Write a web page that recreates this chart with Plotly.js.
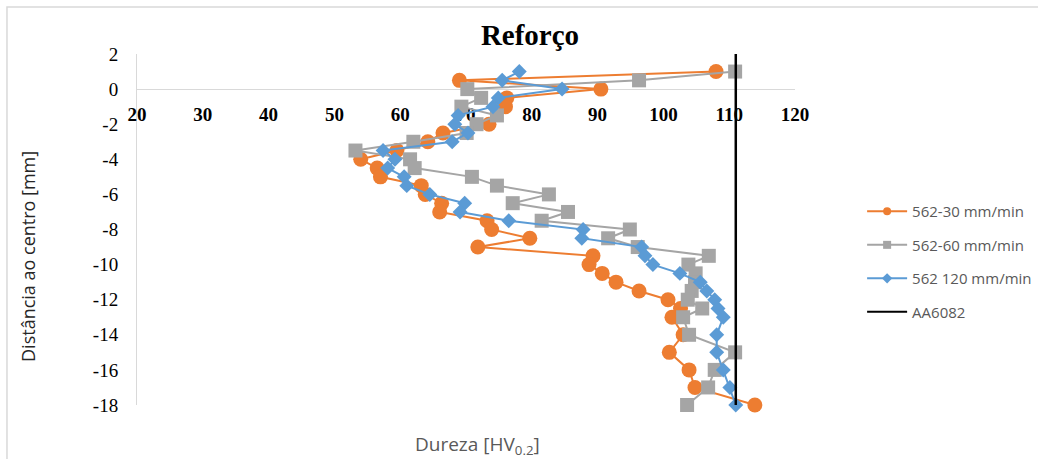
<!DOCTYPE html>
<html>
<head>
<meta charset="utf-8">
<script src="https://cdn.plot.ly/plotly-3.0.1.min.js"></script>
<style>
  html, body { margin: 0; padding: 0; background: #fff; }
  #chart { width: 1038px; height: 459px; }
</style>
</head>
<body>
<div id="chart"></div>
<script>
// Hardness profiles (HV0.2) against distance from the centre (mm)
const seriesNames = ['562-30 mm/min', '562-60 mm/min', '562 120 mm/min', 'AA6082'];

const depth30 = [1, 0.5, 0, -0.5, -1, -2, -2.5, -3, -3.5, -4, -4.5, -5, -5.5, -6, -6.5, -7, -7.5, -8, -8.5, -9,
                 -9.5, -10, -10.5, -11, -11.5, -12, -12.5, -13, -14, -15, -16, -17, -18];
const hv30 = [108, 69, 90.5, 76.2, 76, 73.5, 66.5, 64.2, 59.5, 54, 56.5, 57, 63.2, 63.8, 66.3, 66, 73.2, 73.9, 79.7, 71.8,
              89.3, 88.7, 90.7, 92.8, 96.3, 100.7, 102.6, 101.3, 103, 100.9, 103.9, 104.8, 113.9];

const depth60 = [1, 0.5, 0, -0.5, -1, -1.5, -2, -2.5, -3, -3.5, -4, -4.5, -5, -5.5, -6, -6.5, -7, -7.5, -8, -8.5, -9,
                 -9.5, -10, -10.5, -11, -11.5, -12, -12.5, -13, -14, -15, -16, -17, -18];
const hv60 = [110.9, 96.3, 70.2, 72.3, 69.3, 74.7, 71.6, 70.1, 62, 53.2, 61.5, 62.2, 70.9, 74.7, 82.6, 77.1, 85.5, 81.5, 94.9, 91.6, 96.1,
              106.9, 103.8, 104.9, 104.8, 104.3, 103.7, 105.9, 103, 103.9, 110.9, 107.8, 106.8, 103.6];

const depth120 = [1, 0.5, 0, -0.5, -1, -1.5, -2, -2.5, -3, -3.5, -4, -4.5, -5, -5.5, -6, -6.5, -7, -7.5, -8, -8.5, -9,
                  -9.5, -10, -10.5, -11, -11.5, -12, -12.5, -13, -14, -15, -16, -17, -18];
const hv120 = [78.1, 75.5, 84.6, 74.9, 74.1, 68.8, 68.3, 70.3, 67.9, 57.4, 59.2, 58.1, 60.6, 61.0, 64.5, 69.8, 69.1, 76.5, 87.8, 87.6, 96.7,
               97.2, 98.4, 102.5, 105.6, 106.6, 107.8, 108.3, 109.1, 108.1, 108.1, 109.1, 110.1, 111.0];

// Base alloy reference hardness, drawn as a vertical line over the full depth
const baseHV = [111, 111];
const baseDepth = [2, -18];

const xTicks = [20, 30, 40, 50, 60, 70, 80, 90, 100, 110, 120];
const yTicks = [2, 0, -2, -4, -6, -8, -10, -12, -14, -16, -18];
const yTickText = ['2', '0', '-2', '-4', '-6', '-8', '-10', '-12', '-14', '-16', '-18'];

const colors = ['#ED7D31', '#A5A5A5', '#5B9BD5', '#000000'];
const symbols = ['circle', 'square', 'diamond'];
const markerSizes = [15, 14, 11.5];
const legendMarkerSizes = [8, 8, 8];

const data = [];
const profiles = [[hv30, depth30], [hv60, depth60], [hv120, depth120]];
profiles.forEach((p, i) => {
  data.push({
    type: 'scatter', mode: 'lines+markers',
    x: p[0], y: p[1], name: seriesNames[i],
    line: { color: colors[i], width: 2 },
    marker: { color: colors[i], symbol: symbols[i], size: markerSizes[i] },
    cliponaxis: false, showlegend: false
  });
});
data.push({
  type: 'scatter', mode: 'lines',
  x: baseHV, y: baseDepth, name: seriesNames[3],
  line: { color: colors[3], width: 2.5 },
  cliponaxis: false, showlegend: false
});

// Legend entries with small symbols
seriesNames.forEach((n, i) => {
  const entry = {
    type: 'scatter', mode: i < 3 ? 'lines+markers' : 'lines',
    x: [null], y: [null], name: n, legendgroup: 'g' + i,
    line: { color: colors[i], width: 2 },
    showlegend: true
  };
  if (i < 3) entry.marker = { color: colors[i], symbol: symbols[i], size: legendMarkerSizes[i] };
  data.push(entry);
});

const layout = {
  width: 1038, height: 459,
  margin: { l: 137, r: 243, t: 54, b: 54, autoexpand: false },
  paper_bgcolor: '#ffffff', plot_bgcolor: '#ffffff',
  title: {
    text: 'Reforço',
    font: { family: 'Liberation Serif, Times New Roman, serif', size: 29, weight: 700, color: '#000' },
    x: 0.5106, xanchor: 'center', xref: 'container',
    y: 0.924, yanchor: 'middle', yref: 'container'
  },
  xaxis: {
    range: [20, 120], tickvals: xTicks, ticks: '',
    showgrid: false, zeroline: false,
    showline: true, linecolor: '#D9D9D9', linewidth: 1,
    anchor: 'free', position: 0.9, layer: 'below traces',
    tickfont: { family: 'Liberation Serif, Times New Roman, serif', size: 19, weight: 700, color: '#000' },
    ticklabelstandoff: 8
  },
  yaxis: {
    range: [-18, 2], tickvals: yTicks, ticktext: yTickText, ticks: '',
    showgrid: false, zeroline: false,
    showline: true, linecolor: '#D9D9D9', linewidth: 1, layer: 'below traces',
    tickfont: { family: 'Liberation Serif, Times New Roman, serif', size: 19, color: '#000' },
    ticklabelstandoff: 14
  },
  legend: {
    x: 1.102, xanchor: 'left', y: 0.598, yanchor: 'top',
    font: { family: 'Open Sans, sans-serif', size: 15, color: '#595959' },
    itemwidth: 40, tracegroupgap: 11, bgcolor: 'rgba(0,0,0,0)'
  },
  annotations: [
    {
      text: 'Dureza [HV<sub>0.2</sub>]', showarrow: false,
      xref: 'paper', yref: 'paper', x: 0.517, y: -0.114, xanchor: 'center', yanchor: 'middle',
      font: { family: 'Open Sans, sans-serif', size: 19, color: '#595959' }
    },
    {
      text: 'Distância ao centro [mm]', showarrow: false, textangle: -90,
      xref: 'paper', yref: 'paper', x: -0.1657, y: 0.4245, xanchor: 'center', yanchor: 'middle',
      font: { family: 'Open Sans, sans-serif', size: 18, color: '#262626' }
    }
  ],
  shapes: [
    {
      type: 'rect', xref: 'paper', yref: 'paper',
      x0: -0.1976, x1: 1.6, y0: -0.3, y1: 1.134,
      line: { color: '#D9D9D9', width: 1.5 }, fillcolor: 'rgba(0,0,0,0)', layer: 'below'
    }
  ],
  showlegend: true
};

Plotly.newPlot('chart', data, layout, { displayModeBar: false, staticPlot: true });
</script>
</body>
</html>
